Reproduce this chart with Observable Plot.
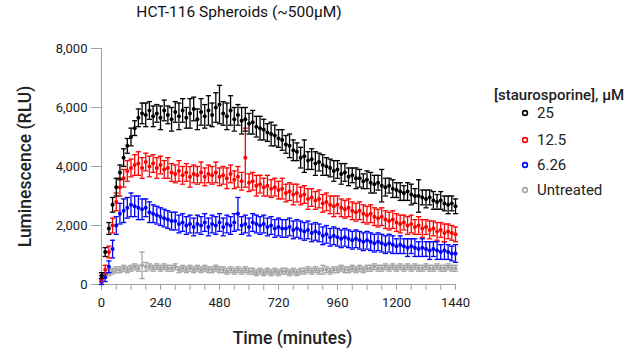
<!DOCTYPE html>
<html><head><meta charset="utf-8">
<script src="https://cdn.jsdelivr.net/npm/d3@7"></script>
<script src="https://cdn.jsdelivr.net/npm/@observablehq/plot@0.6"></script>
<style>
body{margin:0;background:#fff;font-family:Roboto,sans-serif;}
#wrap{position:relative;width:640px;height:358px;overflow:hidden;}
#title{position:absolute;top:3px;left:0;width:478px;text-align:center;font-size:15.5px;font-weight:400;color:#111;}
#chart{position:absolute;top:30px;left:0;}
#legend{position:absolute;left:494px;top:86px;color:#222;}
#legend .lt{font-size:15px;font-weight:500;margin-bottom:-4px;}
#legend .row{display:flex;align-items:center;height:25px;font-size:15px;margin-left:27px;}
#legend .row:nth-child(3){margin-top:2px;}
#legend svg{margin-right:8px;}
</style></head>
<body><div id="wrap"><div id="title">HCT-116 Spheroids (~500µM)</div><div id="chart"></div><div id="legend"></div></div>
<script>
const times = [0,15,30,45,60,75,90,105,120,135,150,165,180,195,210,225,240,255,270,285,300,315,330,345,360,375,390,405,420,435,450,465,480,495,510,525,540,555,570,585,600,615,630,645,660,675,690,705,720,735,750,765,780,795,810,825,840,855,870,885,900,915,930,945,960,975,990,1005,1020,1035,1050,1065,1080,1095,1110,1125,1140,1155,1170,1185,1200,1215,1230,1245,1260,1275,1290,1305,1320,1335,1350,1365,1380,1395,1410,1425,1440];

const seriesNames = ["25", "12.5", "6.26", "Untreated"];
const colors = ["#000000", "#ff0000", "#0000ff", "#a6a6a6"];

const v25 = [300,1100,1900,2700,3300,3800,4300,4700,5000,5300,
5650,5800,5750,5900,5700,5800,5650,5900,5750,5600,
5850,5700,5900,5650,5800,5950,5600,5850,5700,5900,
5750,6000,6100,5800,5700,5900,5600,5750,5550,5600,
5450,5500,5350,5300,5250,5150,5100,5050,4950,4900,
4750,4700,4550,4500,4300,4350,4200,4250,4100,4150,
4050,4000,3950,3850,3900,3750,3800,3650,3700,3600,
3600,3500,3550,3450,3400,3450,3350,3300,3350,3250,
3200,3150,3100,3150,3050,3000,3000,2950,2900,2950,
2850,2800,2850,2750,2700,2750,2650];
const e25 = [100,150,200,250,300,250,300,250,300,250,
300,350,400,300,350,300,400,350,300,400,
350,450,400,350,500,400,350,450,400,500,
400,500,650,400,450,500,400,350,450,400,
350,400,350,400,350,300,400,350,300,350,
300,400,350,300,350,550,300,350,400,300,
350,300,300,350,300,350,300,300,250,350,
300,250,300,350,300,250,550,300,250,300,
250,300,250,300,350,250,550,250,300,250,
300,250,300,250,300,250,250];

const v12 = [200,500,1100,2000,2800,3300,3600,3850,3950,4050,
4100,3950,4150,4000,4100,3950,4050,3900,3950,3800,
3750,3850,3700,3800,3650,3750,3700,3800,3650,3750,
3700,3800,3650,3700,3600,3750,3550,3650,3500,4300,
3450,3500,3350,3400,3300,3350,3250,3300,3200,3250,
3100,3150,3050,3100,3000,3050,2900,2950,2850,2900,
2750,2800,2700,2650,2700,2600,2550,2600,2500,2450,
2500,2400,2350,2400,2300,2250,2300,2200,2150,2200,
2100,2050,2100,2000,2050,1950,2000,1900,1950,1850,
1900,1800,1850,1750,1800,1750,1700];
const e12 = [100,150,200,250,300,300,300,350,300,350,
400,350,300,350,300,350,300,300,350,300,
300,350,300,300,350,300,300,350,300,300,
300,350,300,300,350,300,300,350,300,1000,
300,300,350,300,300,350,300,300,300,350,
300,300,350,300,300,300,350,300,300,300,
300,300,300,350,300,300,300,300,300,300,
300,300,300,300,300,300,300,300,300,300,
300,300,250,300,300,250,300,300,250,300,
250,300,250,300,250,250,250];

const v6 = [100,250,600,1200,2000,2400,2500,2600,2700,2650,
2600,2550,2600,2450,2400,2350,2300,2250,2200,2150,
2150,2050,2100,2000,2050,1950,2050,2000,2100,1950,
2050,2000,2100,1950,2050,2000,2100,2400,2000,2050,
1950,2100,2050,2000,2050,1950,2000,1900,1950,1900,
1900,1950,1850,1900,1850,1800,1850,1750,1800,1750,
1650,1700,1600,1650,1600,1550,1600,1550,1500,1550,
1500,1450,1500,1450,1400,1450,1400,1350,1400,1350,
1300,1350,1300,1250,1300,1250,1200,1250,1200,1150,
1200,1150,1100,1150,1100,1050,1050];
const e6 = [100,150,200,300,300,350,400,350,400,350,
400,350,300,350,300,300,300,300,300,300,
300,300,300,300,300,300,300,300,300,300,
300,300,300,300,300,300,300,550,300,300,
300,300,300,300,300,300,300,300,300,300,
300,300,300,300,300,300,300,300,300,300,
300,300,300,300,300,300,300,300,300,300,
300,300,300,300,300,300,300,300,300,300,
250,300,250,300,250,300,250,300,250,300,
250,300,250,300,250,250,300];

const vU = [100,300,400,450,500,500,550,500,550,600,
550,650,600,600,550,600,550,600,550,550,
600,500,550,500,550,500,550,500,550,500,
500,550,500,500,450,500,450,500,450,500,
450,450,400,450,400,450,400,450,400,450,
450,400,450,400,450,450,500,450,500,450,
500,500,450,500,500,550,500,500,550,500,
550,500,550,550,600,550,550,600,550,600,
550,600,550,600,550,600,550,550,600,550,
550,600,550,550,600,550,550];
const eU = [50,80,100,100,100,100,100,100,100,100,
100,450,150,100,100,100,100,100,100,100,
100,100,100,100,100,100,100,100,100,100,
100,100,100,100,100,100,100,100,100,100,
100,100,100,100,100,100,100,100,100,100,
100,100,100,100,100,100,100,100,100,100,
150,100,100,100,100,100,100,100,100,100,
100,100,100,100,100,100,100,100,100,100,
100,100,100,100,100,100,100,100,100,100,
100,100,100,100,100,100,100];

const yTicks = [0,2000,4000,6000,8000];
const xTicks = [0,240,480,720,960,1200,1440];
const xMinor = [0,60,120,180,240,300,360,420,480,540,600,660,720,780,840,900,960,1020,1080,1140,1200,1260,1320,1380,1440];

const values = [v25, v12, v6, vU];
const errors = [e25, e12, e6, eU];

const cap = {draw(ctx, size){ const w = Math.sqrt(size/Math.PI); ctx.moveTo(-w,0); ctx.lineTo(w,0); }};

const seriesMarks = [];
for (const k of [3,2,1,0]) {
  const rows = times.map((t,i) => ({t, v: values[k][i], lo: values[k][i]-errors[k][i], hi: values[k][i]+errors[k][i]}));
  const c = colors[k];
  seriesMarks.push(
    Plot.ruleX(rows, {x: "t", y1: "lo", y2: "hi", stroke: c, strokeWidth: 1.3}),
    Plot.dot(rows, {x: "t", y: "hi", symbol: cap, r: 2.6, stroke: c, strokeWidth: 1.3, fill: "none"}),
    Plot.dot(rows, {x: "t", y: "lo", symbol: cap, r: 2.6, stroke: c, strokeWidth: 1.3, fill: "none"}),
    Plot.dot(rows, {x: "t", y: "v", r: 2, fill: c, stroke: "none"})
  );
}

const chart = Plot.plot({
  width: 640, height: 328,
  marginLeft: 101, marginRight: 185, marginTop: 18, marginBottom: 74,
  style: {fontFamily: "Roboto, sans-serif", fontSize: "13px", color: "#222", background: "transparent"},
  x: {domain: [0, 1440]},
  y: {domain: [0, 8000]},
  marks: [
    Plot.axisY({ticks: yTicks, tickFormat: d3.format(","), tickSize: 10, tickPadding: 4, stroke: "#a0a0a0", fill: "#222", label: null}),
    Plot.axisX({ticks: xMinor, tickFormat: d => xTicks.includes(d) ? String(d) : "", tickSize: 6, tickPadding: 7, stroke: "#a0a0a0", fill: "#222", label: null}),
    Plot.ruleX([0], {stroke: "#a0a0a0"}),
    Plot.ruleY([0], {stroke: "#a0a0a0"}),
    ...seriesMarks,
    Plot.text(["Luminescence (RLU)"], {frameAnchor: "left", textAnchor: "middle", lineAnchor: "middle", rotate: -90, dx: -76, fontSize: 17.5, fontWeight: 500, fill: "#222"}),
    Plot.text(["Time (minutes)"], {frameAnchor: "bottom", textAnchor: "middle", lineAnchor: "middle", dx: 14, dy: 54, fontSize: 17.5, fontWeight: 500, fill: "#222"})
  ]
});
document.getElementById("chart").appendChild(chart);

const leg = document.getElementById("legend");
leg.innerHTML = `<div class="lt">[staurosporine], µM</div>` + seriesNames.map((n,i) =>
  `<div class="row"><svg width="8" height="8"><circle cx="4" cy="4" r="2.4" fill="#fff" stroke="${colors[i]}" stroke-width="1.6"/></svg><span>${n}</span></div>`).join("");
</script>
</body></html>
